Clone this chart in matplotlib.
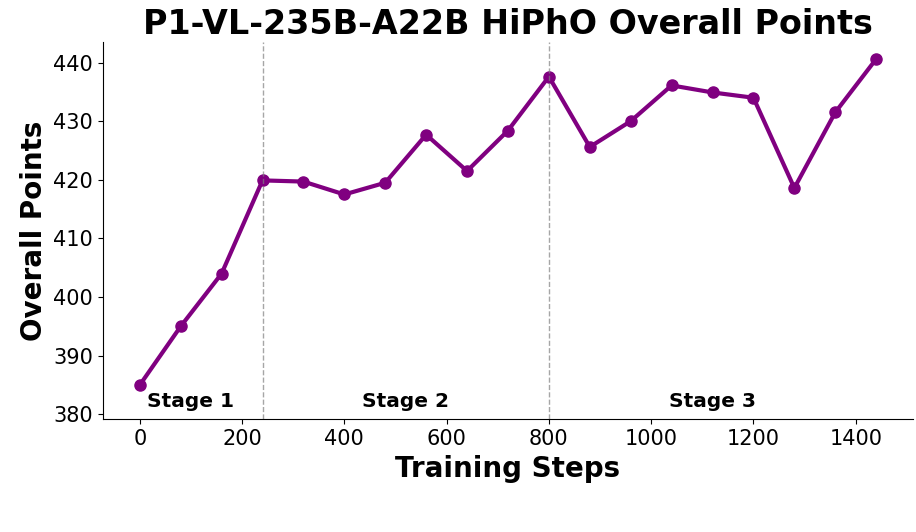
import matplotlib
matplotlib.use("Agg")
import matplotlib.pyplot as plt

steps = [0, 80, 160, 240, 320, 400, 480, 560, 640, 720, 800, 880, 960, 1040, 1120, 1200, 1280, 1360, 1440]
points = [385.0, 395.0, 404.0, 419.9, 419.7, 417.5, 419.5, 427.7, 421.5, 428.4, 437.6, 425.6, 430.0, 436.1, 434.9, 434.0, 418.6, 431.5, 440.6]
stage_bounds = [240, 800]
stage_labels = ["Stage 1", "Stage 2", "Stage 3"]
stage_label_x = [100, 520, 1120]

fig = plt.figure(figsize=(9.16, 5.32), dpi=100)
ax = fig.add_axes([0.1124, 0.2118, 0.8843, 0.7092])

ax.plot(steps, points, color="#800080", linewidth=3, marker="o", markersize=8)
for b in stage_bounds:
    ax.axvline(b, color="grey", linestyle="--", linewidth=1, alpha=0.7)

ax.set_ylim(min(points) - 5.85, max(points) + 2.9)
for lbl, x in zip(stage_labels, stage_label_x):
    ax.text(x, 382.2, lbl, ha="center", va="center", fontsize=14.5, fontweight="bold")

ax.set_title("P1-VL-235B-A22B HiPhO Overall Points", fontsize=24, fontweight="bold")
ax.set_xlabel("Training Steps", fontsize=20, fontweight="bold")
ax.set_ylabel("Overall Points", fontsize=20, fontweight="bold")
ax.tick_params(axis="both", labelsize=15)
ax.spines["top"].set_visible(False)
ax.spines["right"].set_visible(False)

fig.savefig("out.png", dpi=100)
